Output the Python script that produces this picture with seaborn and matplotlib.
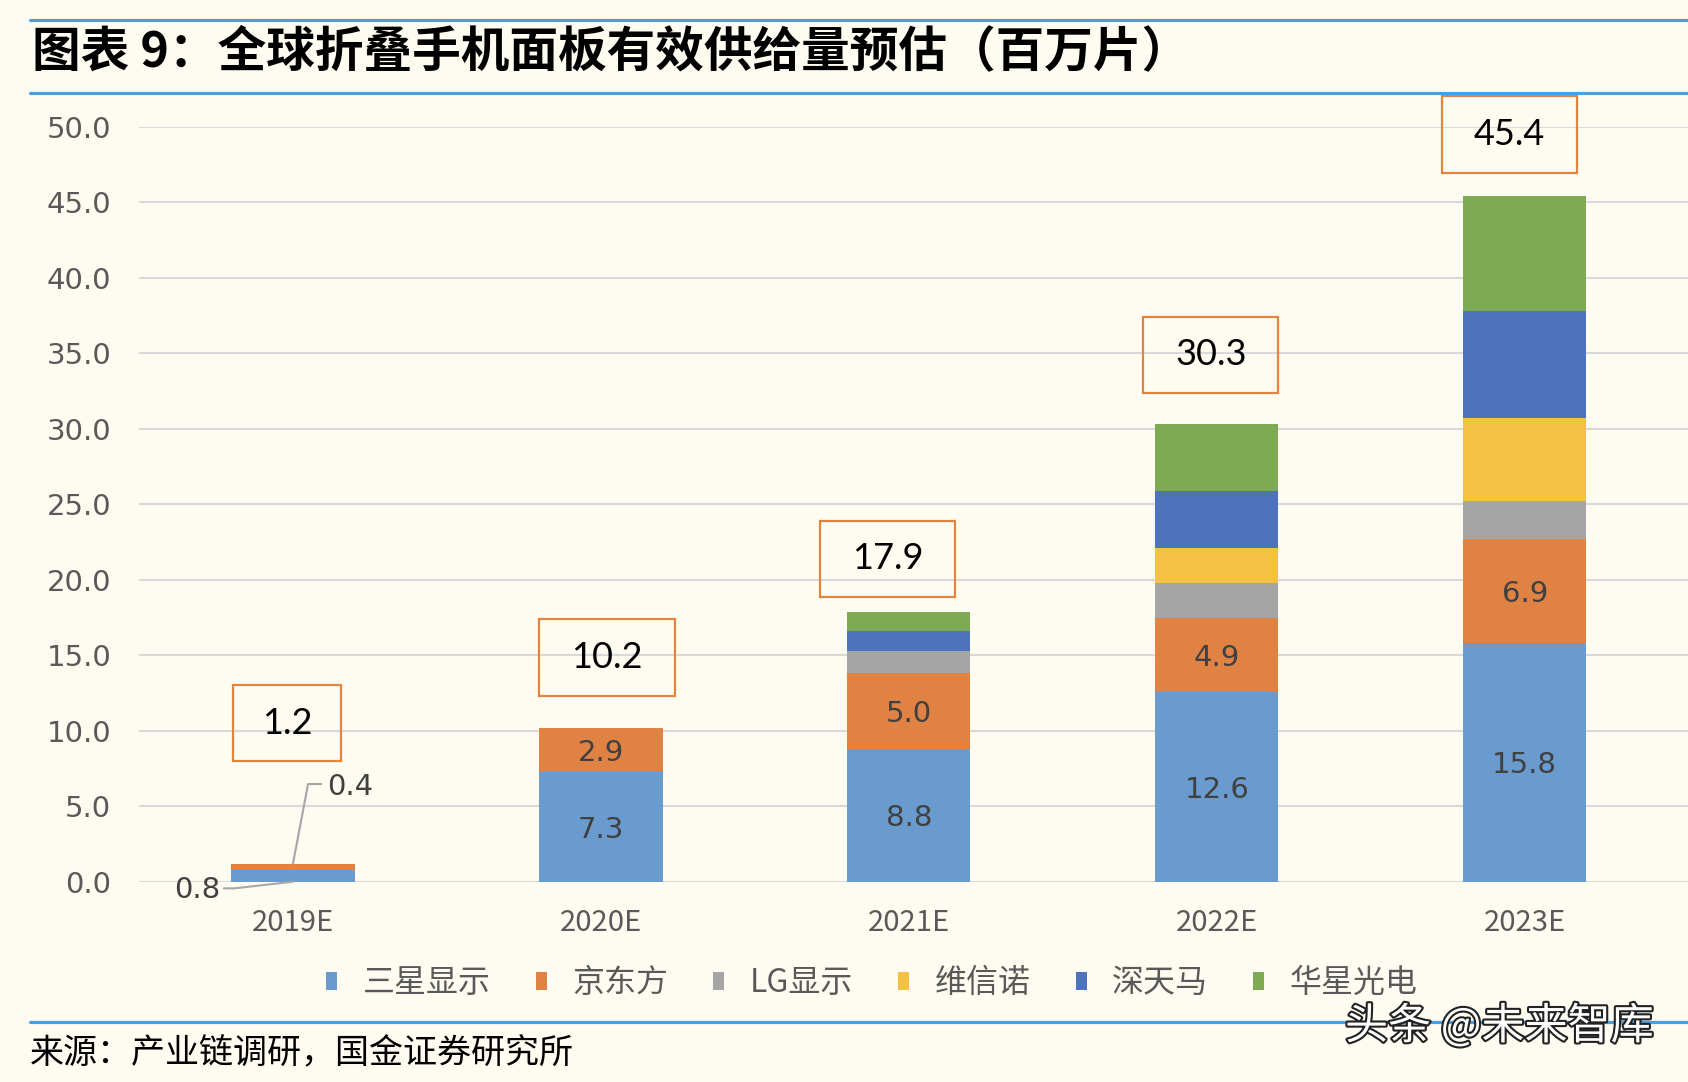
import numpy as np
import pandas as pd
import matplotlib
matplotlib.use("Agg")
import matplotlib.pyplot as plt
import matplotlib.patheffects as pe
from matplotlib.lines import Line2D
from matplotlib.patches import Patch, Rectangle
import seaborn as sns

# === data (million panels) ===
years = ["2019E", "2020E", "2021E", "2022E", "2023E"]
makers = ["三星显示", "京东方", "LG显示", "维信诺", "深天马", "华星光电"]
samsung = [0.8, 7.3, 8.8, 12.6, 15.8]
boe = [0.4, 2.9, 5.0, 4.9, 6.9]
lgd = [0.0, 0.0, 1.5, 2.3, 2.5]
visionox = [0.0, 0.0, 0.0, 2.3, 5.5]
tianma = [0.0, 0.0, 1.3, 3.8, 7.1]
csot = [0.0, 0.0, 1.3, 4.4, 7.6]
totals = [1.2, 10.2, 17.9, 30.3, 45.4]

colors = ["#6A9BCF", "#DF8244", "#A5A5A5", "#F5C142", "#4E72BC", "#7FAA55"]
BG = "#FEFCF1"
LINE_BLUE = "#4A9FE0"

sns.set_theme(style="white")
plt.rcParams["font.family"] = ["Noto Sans CJK SC", "DejaVu Sans"]

W, H = 1688, 1082
fig = plt.figure(figsize=(W / 100, H / 100), dpi=100, facecolor=BG)
ax = fig.add_axes([139 / W, 1 - 881.7 / H, 1 - 139 / W, (881.7 - 127) / H])
ax.set_facecolor(BG)

# stacked bars: draw cumulative heights, tallest layer first
series = [samsung, boe, lgd, visionox, tianma, csot]
cum = np.cumsum(np.array(series), axis=0)
for i in reversed(range(len(series))):
    df = pd.DataFrame({"year": years, "val": cum[i]})
    sns.barplot(data=df, x="year", y="val", color=colors[i], width=0.4,
                saturation=1, linewidth=0, ax=ax)

ax.set_xlim(-0.5, 4.53)
ax.set_ylim(0, 50)
yt = np.arange(0, 50.1, 5)
ax.set_yticks(yt)
ax.set_yticklabels([f"{v:.1f}" for v in yt], fontsize=21, color="#595959")
for lab in ax.get_yticklabels():
    lab.set_fontfamily("DejaVu Sans")
ax.set_xticks(range(len(years)))
ax.set_xticklabels(years, fontsize=21, color="#595959")
ax.tick_params(axis="y", length=0, pad=20)
ax.tick_params(axis="x", length=0, pad=19)
ax.set_xlabel("")
ax.set_ylabel("")
ax.grid(axis="y", color="#D9D9D9", linewidth=1.5)
ax.grid(axis="x", visible=False)
ax.set_axisbelow(True)
for s in ax.spines.values():
    s.set_visible(False)

# segment labels for 三星显示 and 京东方
lab_kw = dict(va="center", family="DejaVu Sans", fontsize=21, color="#404040")
for i in range(1, len(years)):
    ax.text(i, samsung[i] / 2 - 0.2, f"{samsung[i]:.1f}", ha="center", **lab_kw)
    ax.text(i, samsung[i] + boe[i] / 2 - 0.2, f"{boe[i]:.1f}", ha="center", **lab_kw)

# 2019E labels with leader lines
ax.plot([-0.225, -0.19, 0], [-0.44, -0.44, 0], color="#A6A6A6", lw=1.5, clip_on=False)
ax.text(-0.235, -0.55, f"{samsung[0]:.1f}", ha="right", **lab_kw)
ax.plot([0.092, 0.049, 0], [6.47, 6.47, totals[0]], color="#A6A6A6", lw=1.5, clip_on=False)
ax.text(0.11, 6.25, f"{boe[0]:.1f}", ha="left", **lab_kw)

# total boxes
box_dx = [-0.02, 0.02, -0.07, -0.02, -0.05]
box_y = [10.5, 14.85, 21.4, 34.9, 49.5]
box_w = [0.35, 0.44, 0.44, 0.44, 0.44]
box_h = 5.05
for i, t in enumerate(totals):
    cx = i + box_dx[i]
    ax.add_patch(Rectangle((cx - box_w[i] / 2, box_y[i] - box_h / 2), box_w[i], box_h,
                           fill=False, edgecolor="#E0843F", lw=1.6, clip_on=False, zorder=5))
    ax.text(cx, box_y[i], f"{t:.1f}", ha="center", va="center",
            family="Lato", fontsize=26, color="black", zorder=6)

# legend
handles = [Patch(facecolor=c, edgecolor="none", label=m) for c, m in zip(colors, makers)]
fig.legend(handles=handles, loc="center", bbox_to_anchor=(872 / W, 1 - 983 / H), ncol=6,
           frameon=False, fontsize=23, handlelength=0.35, handleheight=0.5,
           handletextpad=0.8, columnspacing=1.4, labelcolor="#595959")

# header / footer rules and text
for y in (20, 92.7, 1021.7):
    fig.add_artist(Line2D([30 / W, 1], [1 - y / H] * 2, transform=fig.transFigure,
                          color=LINE_BLUE, lw=2.3))
fig.text(32 / W, 1 - 52 / H, "图表 9：全球折叠手机面板有效供给量预估（百万片）",
         ha="left", va="center", fontsize=35, weight="bold", color="black")
fig.text(30 / W, 1 - 1054 / H, "来源：产业链调研，国金证券研究所",
         ha="left", va="center", fontsize=24.5, weight="medium", color="black")
fig.text(1345 / W, 1 - 1027 / H, "头条 @未来智库", ha="left", va="center", fontsize=31,
         color="white", path_effects=[pe.withStroke(linewidth=3, foreground="#222222")])

fig.savefig("out.png", dpi=100, facecolor=BG)
